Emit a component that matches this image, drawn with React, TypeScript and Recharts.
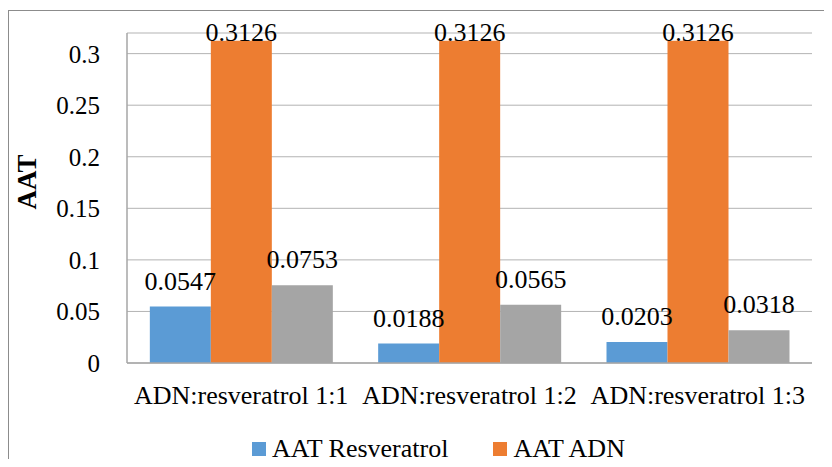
import React from "react";
import { BarChart, Bar, XAxis, YAxis, CartesianGrid, LabelList } from "recharts";

const categories = ["ADN:resveratrol 1:1", "ADN:resveratrol 1:2", "ADN:resveratrol 1:3"];
const aatResveratrol = [0.0547, 0.0188, 0.0203];
const aatAdn = [0.3126, 0.3126, 0.3126];
const aatThird = [0.0753, 0.0565, 0.0318];
const yTicks = [0, 0.05, 0.1, 0.15, 0.2, 0.25, 0.3];

const seriesNames = ["AAT Resveratrol", "AAT ADN"];
const seriesColors = ["#5b9bd5", "#ed7d31", "#a5a5a5"];

const data = categories.map((name, i) => ({
  name,
  resveratrol: aatResveratrol[i],
  adn: aatAdn[i],
  third: aatThird[i],
}));

const FONT = "Liberation Serif";

const makeLabel = (gap: number) => (props: any) => {
  const { x, y, width, value } = props;
  return (
    <text
      x={Number(x) + Number(width) / 2}
      y={Number(y) - gap}
      textAnchor="middle"
      fontFamily={FONT}
      fontSize={26}
      fill="#000"
    >
      {String(value)}
    </text>
  );
};

const renderYTick = (props: any) => {
  const { x, y, payload } = props;
  return (
    <text x={x} y={y} dy="0.355em" textAnchor="end" fontFamily={FONT} fontSize={25} fill="#000">
      {String(payload.value)}
    </text>
  );
};

export default function App() {
  return (
    <div
      style={{
        position: "relative",
        margin: -8,
        width: 832,
        height: 467,
        overflow: "hidden",
        background: "#fff",
        fontFamily: FONT,
      }}
    >
      <div
        style={{
          position: "absolute",
          left: 8,
          top: 10,
          width: 840,
          height: 470,
          border: "1px solid #8c8c8c",
          boxSizing: "border-box",
        }}
      />
      <div style={{ position: "absolute", left: 0, top: 0 }}>
        <BarChart
          width={832}
          height={467}
          data={data}
          margin={{ top: 33, right: 20, bottom: 64, left: 67 }}
          barCategoryGap="10%"
          barGap={0}
        >
          <CartesianGrid vertical={false} stroke="#b3b3b3" strokeWidth={1} />
          <XAxis
            dataKey="name"
            axisLine={{ stroke: "#a6a6a6", strokeWidth: 1.5 }}
            tickLine={false}
            tickSize={0}
            tickMargin={23}
            height={40}
            tick={{ fontSize: 26, fill: "#000", fontFamily: FONT }}
            interval={0}
          />
          <YAxis
            width={60}
            domain={[0, 0.32]}
            ticks={yTicks}
            allowDataOverflow
            axisLine={{ stroke: "#a6a6a6", strokeWidth: 1.5 }}
            tickLine={false}
            tickSize={0}
            tickMargin={27}
            tick={renderYTick}
            label={{
              content: (p: any) => {
                const vb = p.viewBox || {};
                const cx = vb.x - 40;
                const cy = vb.y + vb.height / 2 - 16;
                return (
                  <text
                    x={cx}
                    y={cy}
                    transform={`rotate(-90 ${cx} ${cy})`}
                    textAnchor="middle"
                    dominantBaseline="central"
                    fontFamily={FONT}
                    fontWeight="bold"
                    fontSize={27}
                    fill="#000"
                  >
                    AAT
                  </text>
                );
              },
            }}
          />
          <Bar dataKey="resveratrol" name={seriesNames[0]} fill={seriesColors[0]} isAnimationActive={false}>
            <LabelList dataKey="resveratrol" content={makeLabel(17)} />
          </Bar>
          <Bar dataKey="adn" name={seriesNames[1]} fill={seriesColors[1]} isAnimationActive={false}>
            <LabelList dataKey="adn" content={makeLabel(0)} />
          </Bar>
          <Bar dataKey="third" fill={seriesColors[2]} legendType="none" isAnimationActive={false}>
            <LabelList dataKey="third" content={makeLabel(17)} />
          </Bar>
        </BarChart>
      </div>
      {/* legend: only the two named series */}
      <div
        style={{
          position: "absolute",
          left: 252,
          top: 433,
          display: "flex",
          alignItems: "center",
          fontSize: 26,
          color: "#000",
          lineHeight: "32px",
        }}
      >
        {seriesNames.map((n, i) => (
          <div key={n} style={{ display: "flex", alignItems: "center", marginRight: i === 0 ? 45 : 0 }}>
            <span
              style={{ display: "inline-block", width: 14, height: 14, background: seriesColors[i], marginRight: 6 }}
            />
            <span>{n}</span>
          </div>
        ))}
      </div>
    </div>
  );
}
